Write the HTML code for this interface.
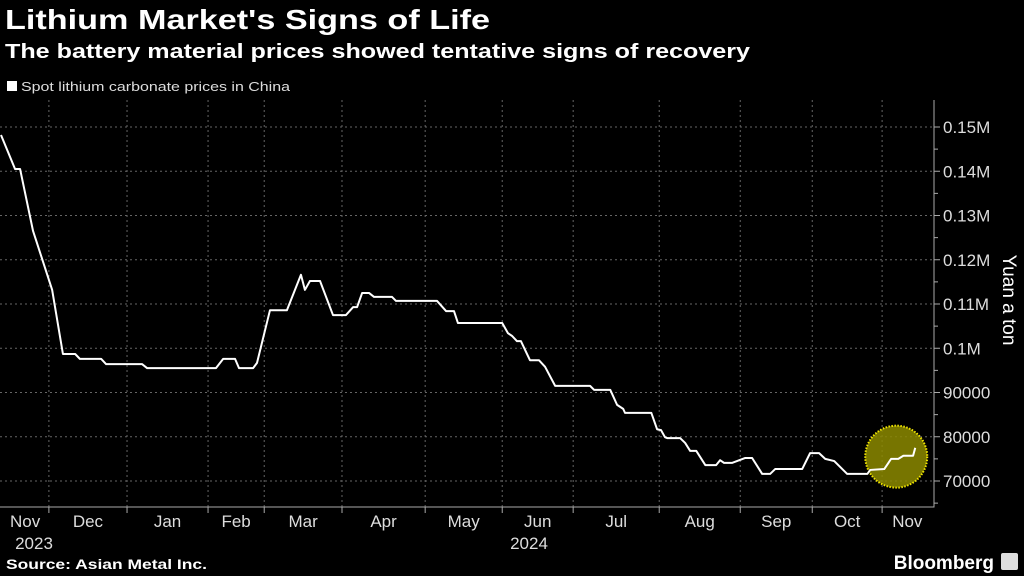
<!DOCTYPE html>
<html><head><meta charset="utf-8"><style>
body{margin:0;background:#000;width:1024px;height:576px;overflow:hidden;font-family:"Liberation Sans",sans-serif;color:#fff}
svg{position:absolute;left:0;top:0}
</style></head><body>
<svg id="c" width="1024" height="576">
<text x="5" y="29" font-size="28" font-weight="bold" fill="#fff" textLength="485" lengthAdjust="spacingAndGlyphs">Lithium Market's Signs of Life</text>
<text x="5" y="58" font-size="20" font-weight="bold" fill="#fff" textLength="745" lengthAdjust="spacingAndGlyphs">The battery material prices showed tentative signs of recovery</text>
<rect x="7" y="81" width="10" height="10" fill="#fff"/>
<text x="21" y="91" font-size="13" fill="#ddd" textLength="269" lengthAdjust="spacingAndGlyphs">Spot lithium carbonate prices in China</text>
<text transform="translate(1003,300) rotate(90)" text-anchor="middle" font-size="19" fill="#fff">Yuan a ton</text>
<text x="6" y="569" font-size="14" font-weight="bold" fill="#fff" textLength="201" lengthAdjust="spacingAndGlyphs">Source: Asian Metal Inc.</text>
<text x="994" y="569" text-anchor="end" font-size="19" font-weight="bold" fill="#fff">Bloomberg</text>
<rect x="1001" y="553" width="17" height="17" rx="2" fill="#ddd"/>
<g id="plot"></g>
</svg>
<script>
const days=[0,3.9,5.3,8.9,9.7,14.2,17.2,20.6,21.9,27.8,29.2,39.2,40.6,59.7,61.7,65,66.1,70,71.1,74.7,79.4,83.3,84.4,85.8,88.6,92.2,95.8,97.8,98.9,100.3,102.2,103.6,108.6,109.7,121.1,123.6,125.8,126.9,139.2,140.8,141.9,143.3,144.4,146.9,149.4,151.1,153.9,163.6,164.7,169.2,171.1,172.8,173.3,180.6,182.2,183.3,184.4,185,188.6,190,191.4,193.1,195.6,198.6,199.7,200.8,203.1,206.7,208.6,211.4,213.6,215,222.5,224.7,227.2,228.9,231.4,235,240.6,241.4,245.3,247.2,249.2,250.6,253.3,253.9];
const prices=[148200,140500,140500,126500,124500,113200,98700,98700,97600,97600,96400,96400,95500,95500,97600,97600,95500,95500,96700,108600,108600,116600,113200,115200,115200,107500,107500,109300,109300,112500,112500,111600,111600,110700,110700,108400,108400,105700,105700,103400,102800,101600,101600,97300,97300,95800,91500,91500,90600,90600,87200,86300,85400,85400,81700,81500,79900,79700,79700,78600,76800,76800,73600,73600,74700,74100,74100,75200,75200,71600,71600,72700,72700,76300,76300,75000,74500,71600,71600,72500,72700,75000,75000,75700,75700,77500];
const monthStarts=[13.3,35,57.5,73.1,94.7,117.8,139.2,158.9,182.8,205.3,225.3,244.7];
const monthLabels=["Nov","Dec","Jan","Feb","Mar","Apr","May","Jun","Jul","Aug","Sep","Oct","Nov"];
const yTicks=[70000,80000,90000,100000,110000,120000,130000,140000,150000];
const yTickLabels=["70000","80000","90000","0.1M","0.11M","0.12M","0.13M","0.14M","0.15M"];
const X0=1,X1=930,D0=0,D1=258;
const x=d=>X0+(d-D0)/(D1-D0)*(X1-X0);
const y=v=>127+(150000-v)/1000*4.425;
const NS="http://www.w3.org/2000/svg";
const g=document.getElementById('plot');
function mk(t,a){const e=document.createElementNS(NS,t);for(const k in a)e.setAttribute(k,a[k]);g.appendChild(e);return e;}
yTicks.forEach((v,i)=>{
 const l=mk('line',{x1:0,x2:934,y1:y(v),y2:y(v),stroke:'#666','stroke-width':1,'stroke-dasharray':'2,3'});
 
 
 const tk=mk('line',{x1:934,x2:940,y1:y(v),y2:y(v),stroke:'#aaa'});
 
 
 const t=mk('text',{x:943,y:y(v)+6,'font-size':17,fill:'#ddd'});
 t.textContent=yTickLabels[i];
 
 
 const m=mk('line',{x1:934,x2:938,y1:y(v-5000),y2:y(v-5000),stroke:'#aaa'});
 
 
});
monthStarts.forEach(d=>{
 const l=mk('line',{x1:x(d),x2:x(d),y1:100,y2:507,stroke:'#666','stroke-dasharray':'2,3'});
 
 
 const tk=mk('line',{x1:x(d),x2:x(d),y1:507,y2:513,stroke:'#aaa'});
 
 
});
const bounds=[D0].concat(monthStarts).concat([D1]);
monthLabels.forEach((m,i)=>{
 let c=(bounds[i]+bounds[i+1])/2;
 if(i===0)c=6.7; if(i===monthLabels.length-1)c=251.7;
 const t=mk('text',{x:x(c),y:527,'text-anchor':'middle','font-size':17,fill:'#ddd'});
 t.textContent=m;
 
 
});
[["2023",34],["2024",529]].forEach(([s,px])=>{
 const t=mk('text',{x:px,y:549,'text-anchor':'middle','font-size':17,fill:'#ddd'});
 t.textContent=s;
 
 
});
const ax=mk('path',{d:'M0 507H934V100',fill:'none',stroke:'#aaa'});


const last=days.length-1;
const cx=x(days[last])-19,cy=y(75500);
const circ=mk('circle',{cx:cx,cy:cy,r:31,fill:'#8c8a00','fill-opacity':0.85,stroke:'#f2e600','stroke-width':2,'stroke-dasharray':'1.5,1.5'});


const p=mk('polyline',{points:days.map((d,i)=>x(d)+','+y(prices[i])).join(' '),fill:'none',stroke:'#fff','stroke-width':2,'stroke-linejoin':'round'});


</script>
</body></html>
